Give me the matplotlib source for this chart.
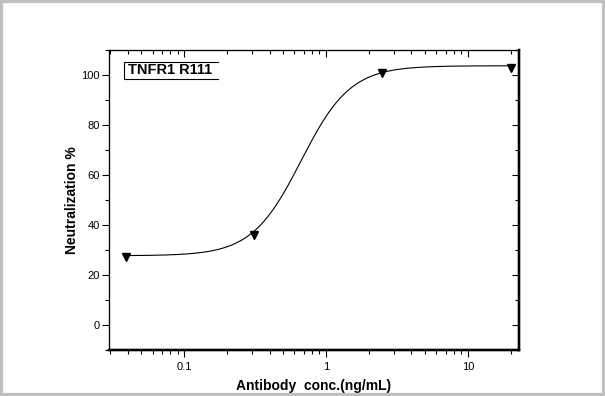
import numpy as np
import matplotlib
matplotlib.use("Agg")
import matplotlib.pyplot as plt
from matplotlib.patches import Rectangle

plt.rcParams['font.family'] = ['Liberation Sans', 'DejaVu Sans']

# measured points
conc = [0.039, 0.3125, 2.5, 20]
neutralization = [27.4, 36.1, 101.0, 102.9]

# logistic fit: bottom, top, EC50, hill slope
fit_bottom = 27.7
fit_top = 103.7
fit_ec50 = 0.668
fit_hill = 2.5

sample_name = "TNFR1 R111"
x_ticks = [0.1, 1, 10]
x_ticklabels = ["0.1", "1", "10"]
y_ticks = [0, 20, 40, 60, 80, 100]

fig = plt.figure(figsize=(6.05, 3.96), dpi=100)
ax = fig.add_axes([109/605, 46/396, 410/605, 300/396])

# fitted curve
xs = np.logspace(np.log10(conc[0]), np.log10(conc[-1]), 400)
ys = fit_top + (fit_bottom - fit_top) / (1 + (xs / fit_ec50) ** fit_hill)
ax.plot(xs, ys, color='black', lw=0.8)
ax.plot(conc, neutralization, linestyle='none', marker='v', color='black', markersize=6)

ax.set_xscale('log')
ax.set_xlim(0.0296, 22.9)
ax.set_ylim(-10, 110)
ax.set_xticks(x_ticks)
ax.set_xticklabels(x_ticklabels)
ax.set_yticks(y_ticks)
ax.yaxis.set_minor_locator(matplotlib.ticker.MultipleLocator(10))
ax.xaxis.set_minor_formatter(matplotlib.ticker.NullFormatter())

ax.tick_params(which='both', direction='out', labelsize=8, width=0.8)
ax.tick_params(which='major', length=5)
ax.tick_params(which='minor', length=3)
ax.tick_params(axis='x', pad=4)
ax.tick_params(axis='y', pad=1.5)

# mirrored axes on top and right with ticks pointing in
axr = ax.twinx()
axr.set_ylim(ax.get_ylim())
axr.set_yticks(y_ticks)
axr.yaxis.set_minor_locator(matplotlib.ticker.MultipleLocator(10))
axr.tick_params(which='both', direction='in', labelright=False, width=0.8)
axr.tick_params(which='major', length=5)
axr.tick_params(which='minor', length=3)

axt = ax.twiny()
axt.set_xscale('log')
axt.set_xlim(ax.get_xlim())
axt.set_xticks(x_ticks)
axt.xaxis.set_minor_formatter(matplotlib.ticker.NullFormatter())
axt.tick_params(which='both', direction='in', labeltop=False, width=0.8)
axt.tick_params(which='major', length=5)
axt.tick_params(which='minor', length=3)

for a in (ax, axr, axt):
    a.spines['left'].set_linewidth(0.8)
    a.spines['top'].set_linewidth(0.8)
    a.spines['bottom'].set_linewidth(1.6)
    a.spines['right'].set_linewidth(1.6)

ax.set_xlabel("Antibody  conc.(ng/mL)", fontsize=10, fontweight='bold', labelpad=5)
ax.set_ylabel("Neutralization %", fontsize=10, fontweight='bold', labelpad=2)

# sample label with open-right box
ax.text(0.046, 0.932, sample_name, transform=ax.transAxes, fontsize=10.5,
        fontweight='bold', va='center', ha='left')
ax.plot([0.266, 0.0366, 0.0366, 0.266], [0.96, 0.96, 0.903, 0.903],
        transform=ax.transAxes, color='black', lw=0.8, clip_on=False)

# grey outer frame
fig.patches.append(Rectangle((0, 0), 1, 1, transform=fig.transFigure, fill=False,
                             edgecolor='#c0c0c0', linewidth=4.5))

fig.savefig("out.png", dpi=100)
